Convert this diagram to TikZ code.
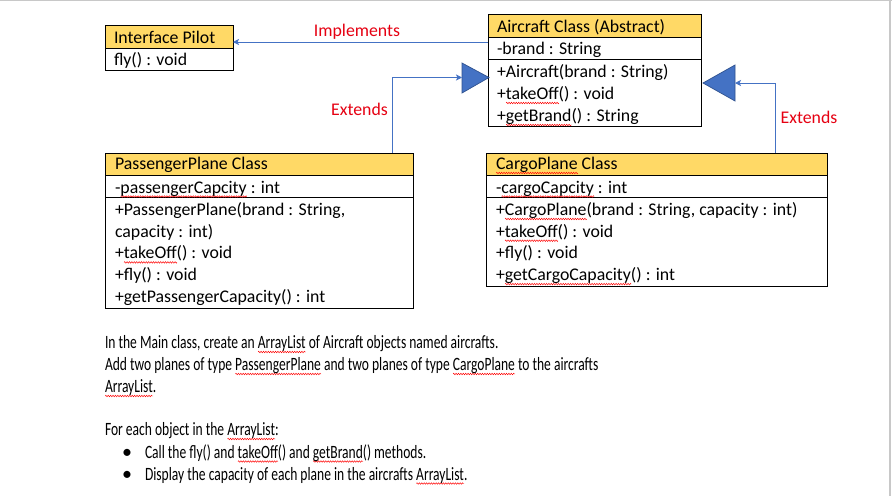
\documentclass[tikz,border=0pt]{standalone}
\usepackage{fontspec}
\setmainfont{Carlito}
\newfontfamily\bodyfont[FakeStretch=0.72]{Carlito}
\usetikzlibrary{arrows.meta,decorations.pathmorphing}
\definecolor{hdry}{RGB}{255,217,102}
\definecolor{cblue}{RGB}{68,114,196}
\definecolor{cbluedk}{RGB}{47,82,143}
\definecolor{lred}{RGB}{230,0,18}
\definecolor{pageedge}{RGB}{200,200,200}
\newdimen\splw
\newcommand\spl[1]{\setbox0\hbox{#1}\splw=\wd0\relax\leavevmode\rlap{\tikz[x=1pt,y=1pt,baseline=0pt]\draw[red,line width=0.45pt,decorate,decoration={zigzag,amplitude=0.8pt,segment length=2.4pt}] (0pt,-3.5pt) -- (\splw,-3.5pt);}\box0\relax}
\begin{document}
\begin{tikzpicture}[x=1pt,y=-1pt,
  box/.style={draw=black, line width=0.9pt, anchor=north west, inner sep=0pt, outer sep=0pt},
  hdr/.style={box, fill=hdry},
  txt/.style={anchor=base west, inner sep=0pt, outer sep=0pt, align=left, font=\fontsize{17.8}{21.7}\selectfont},
  lbl/.style={anchor=base, inner sep=0pt, text=lred, font=\fontsize{17.8}{20}\selectfont},
  conn/.style={draw=cblue, line width=0.9pt, -{Stealth[length=6pt,width=6pt,inset=1.5pt]}},
  tri/.style={fill=cblue, draw=cbluedk, line width=0.7pt, line join=miter},
  btxt/.style={anchor=base west, inner sep=0pt, outer sep=0pt, font=\bodyfont\fontsize{18.8}{22}\selectfont},
]
\useasboundingbox (0,0) rectangle (892,496);
\fill[white] (0,0) rectangle (892,496);
\draw[pageedge, line width=1.2pt] (0,0.6) -- (892,0.6);
\draw[pageedge, line width=2pt] (890,0) -- (890,496);

% Interface Pilot
\node[hdr, minimum width=128, minimum height=23] (ipH) at (105,25) {};
\node[box, minimum width=128, minimum height=22] (ipM) at (105,48) {};
\node[txt] (ipHt) at (114,43) {Interface Pilot};
\node[txt] (ipMt) at (114,65) {fly() : void};

% Aircraft
\node[hdr, minimum width=213, minimum height=23] (acH) at (488,14) {};
\node[box, minimum width=213, minimum height=22] (acA) at (488,37) {};
\node[box, minimum width=213, minimum height=67] (acM) at (488,59) {};
\node[txt] (acHt) at (497,32) {Aircraft Class (Abstract)};
\node[txt] (acAt) at (497,54.5) {-brand : String};
\node[txt, font=\fontsize{17.8}{22}\selectfont] (acMt) at (497,121.5) {+Aircraft(brand : String)\\+\spl{takeOff}() : void\\+\spl{getBrand}() : String};

% PassengerPlane
\node[hdr, minimum width=308, minimum height=22] (ppH) at (105,153) {};
\node[box, minimum width=308, minimum height=22] (ppA) at (105,175) {};
\node[box, minimum width=308, minimum height=111] (ppM) at (105,197) {};
\node[txt] (ppHt) at (115,169.5) {PassengerPlane Class};
\node[txt] (ppAt) at (115,193) {-\spl{passengerCapcity} : int};
\node[txt] (ppMt) at (115,302.3) {+PassengerPlane(brand : String,\\capacity : int)\\+\spl{takeOff}() : void\\+fly() : void\\+getPassengerCapacity() : int};

% CargoPlane
\node[hdr, minimum width=341, minimum height=22] (cpH) at (486,153) {};
\node[box, minimum width=341, minimum height=22] (cpA) at (486,175) {};
\node[box, minimum width=341, minimum height=89] (cpM) at (486,197) {};
\node[txt] (cpHt) at (496,169.5) {\spl{CargoPlane} Class};
\node[txt] (cpAt) at (496,193) {-\spl{cargoCapcity} : int};
\node[txt] (cpMt) at (496,280.6) {+\spl{CargoPlane}(brand : String, capacity : int)\\+\spl{takeOff}() : void\\+fly() : void\\+\spl{getCargoCapacity}() : int};

% inheritance triangles
\draw[tri] (462,63) -- (489,77.5) -- (462,93) -- cycle;
\coordinate (tlBase) at (462,77.5);
\draw[tri] (735,65) -- (703,83) -- (735,101) -- cycle;
\coordinate (trBase) at (735,83);

% connectors
\draw[conn] ([yshift=6pt]acA.west) -- ([yshift=-5.5pt]ipH.east);
\draw[conn] ([xshift=287pt]ppH.north west) |- (tlBase);
\draw[conn] ([xshift=289pt]cpH.north west) |- (trBase);

% labels
\node[lbl] (impl) at (357,36.5) {Implements};
\node[lbl] (ext1) at (359.5,115) {Extends};
\node[lbl] (ext2) at (809,123) {Extends};

% instructions
\node[btxt] (t1) at (105,348.5) {In the Main class, create an \spl{ArrayList} of Aircraft objects named aircrafts.};
\node[btxt] (t2) at (105,370.5) {Add two planes of type \spl{PassengerPlane} and two planes of type \spl{CargoPlane} to the aircrafts};
\node[btxt] (t3) at (105,392.5) {\spl{ArrayList}.};
\node[btxt] (t4) at (105,435.5) {For each object in the \spl{ArrayList}:};
\node[btxt, anchor=base, font=\fontsize{20}{22}\selectfont] (b1) at (127,458) {\textbullet};
\node[btxt, anchor=base, font=\fontsize{20}{22}\selectfont] (b2) at (127,480) {\textbullet};
\node[btxt] (t5) at (145,458) {Call the fly() and \spl{takeOff}() and \spl{getBrand}() methods.};
\node[btxt] (t6) at (145,480) {Display the capacity of each plane in the aircrafts \spl{ArrayList}.};
\end{tikzpicture}
\end{document}
